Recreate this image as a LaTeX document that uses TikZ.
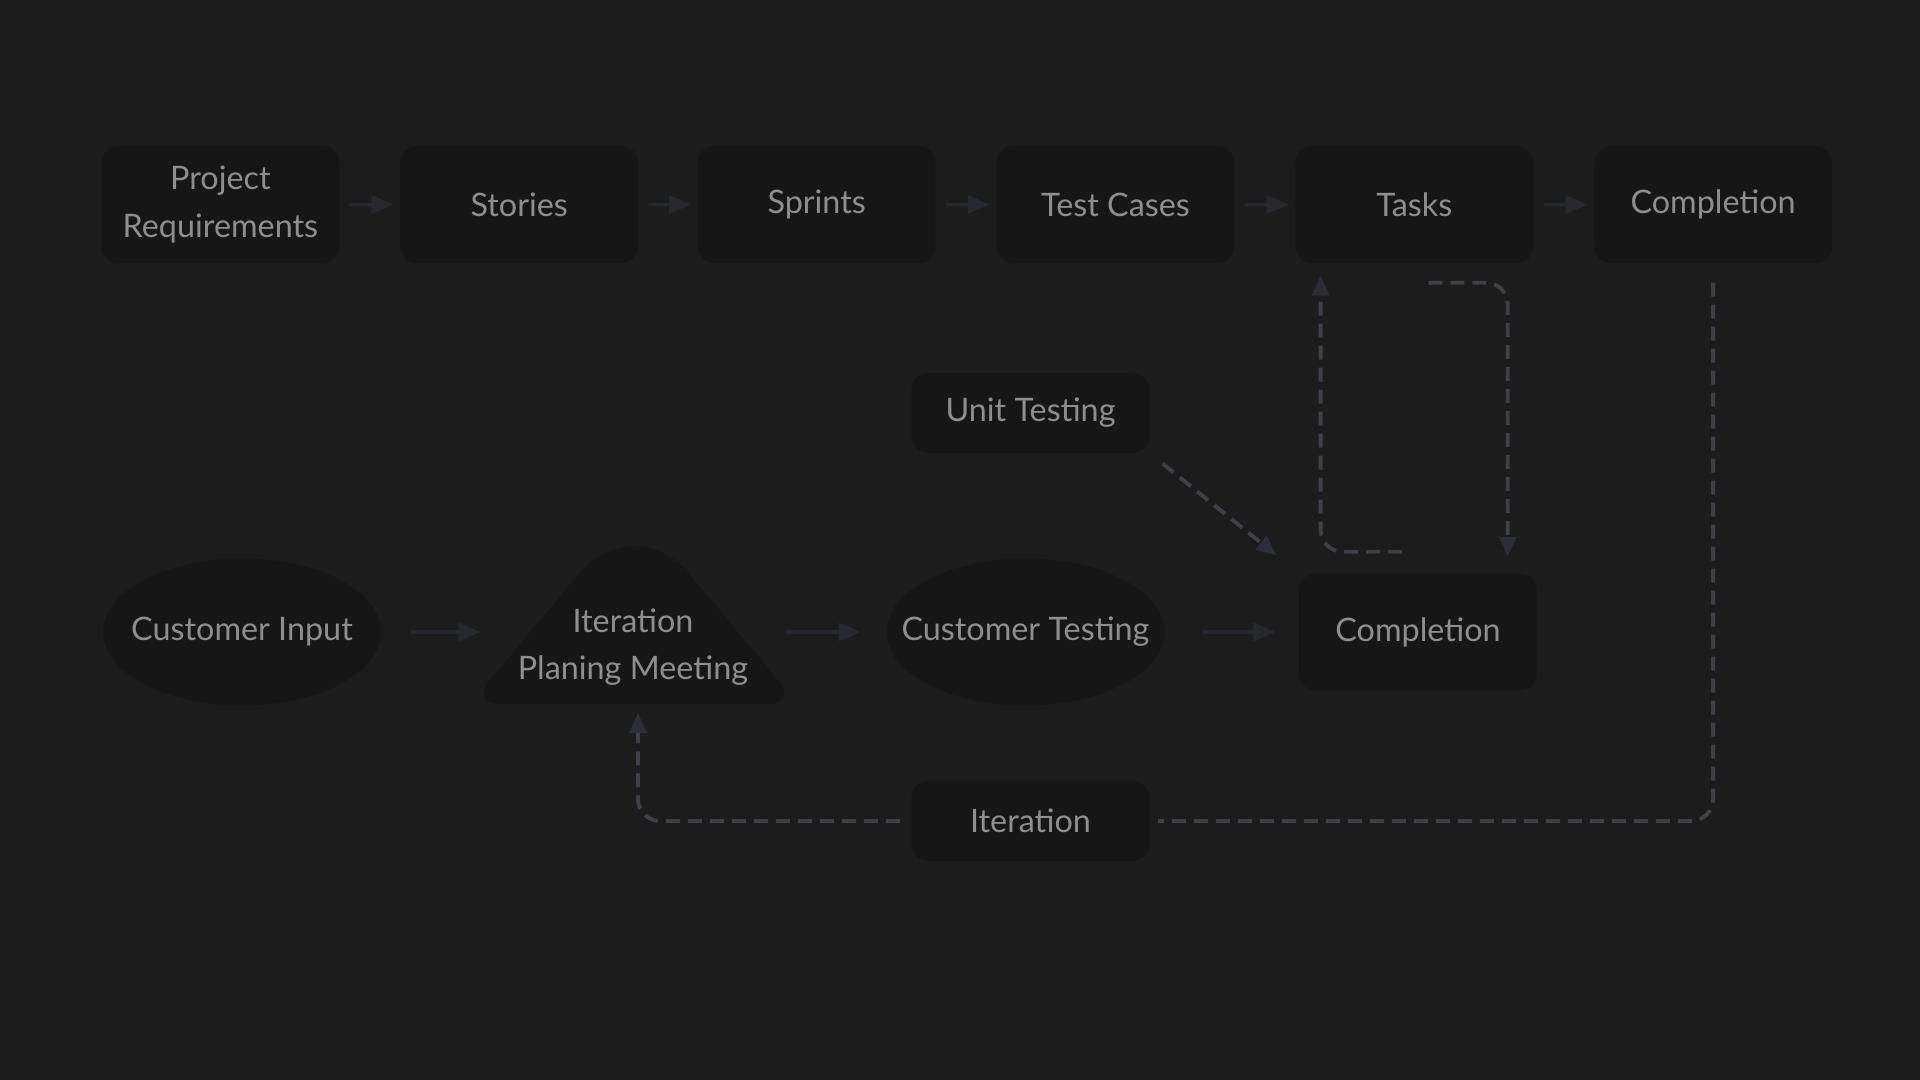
\documentclass[tikz,border=0pt]{standalone}
\usepackage{fontspec}
\setmainfont{Lato}
\usetikzlibrary{arrows.meta,shapes.geometric,backgrounds,calc}
\definecolor{bgcol}{HTML}{1C1C1C}
\definecolor{boxcol}{HTML}{161616}
\definecolor{txtcol}{HTML}{8E8E8E}
\definecolor{arrcol}{HTML}{25282D}
\definecolor{dashcol}{HTML}{3D4046}
\definecolor{headcol}{HTML}{2B2E34}
\tikzset{
	lbl/.style={text=txtcol, align=center, font=\fontsize{9.2pt}{13.6pt}\selectfont},
	stepbox/.style={lbl, rectangle, rounded corners=0.17cm, fill=boxcol, minimum width=2.38cm, minimum height=1.17cm},
	smallbox/.style={stepbox, minimum height=0.8cm},
	oval/.style={lbl, ellipse, fill=boxcol, inner sep=0pt, minimum width=2.78cm, minimum height=1.47cm},
	flow/.style={arrcol, line width=1.1pt, -{Triangle[length=0.22cm,width=0.18cm]}},
	loop/.style={dashcol, line width=1.1pt, dash pattern=on 0.14cm off 0.08cm, rounded corners=0.22cm},
	loophead/.style={-{Triangle[length=0.2cm,width=0.17cm,color=headcol]}}
}
\begin{document}
\begin{tikzpicture}
	\fill[bgcol] (0,0) rectangle (19.2,-10.8);
	\useasboundingbox (0,0) rectangle (19.2,-10.8);
	% top row
	\foreach \name/\x/\txt in {req/2.204/{Project\\Requirements}, sto/5.192/Stories, spr/8.167/Sprints, tst/11.155/{Test Cases}, tasks/14.143/Tasks, done/17.131/Completion}
		\node[stepbox] (\name) at (\x,-2.045) {\txt};
	\foreach \a/\b in {req/sto, sto/spr, spr/tst, tst/tasks, tasks/done}
		\draw[flow, shorten <=0.1cm, shorten >=0.06cm] (\a) -- (\b);
	% bottom row
	\node[oval] (cin) at (2.42,-6.32) {\makebox[0pt]{Customer Input}};
	\coordinate (ipmleft) at (4.70,-7.04);
	\coordinate (ipmright) at (7.98,-7.04);
	\coordinate (ipmapex) at (6.34,-5.08);
	\coordinate (ipmbase) at (6.34,-7.04);
	\fill[boxcol] (ipmbase) [rounded corners=0.3cm] -- (ipmleft) [rounded corners=0.85cm] -- (ipmapex) [rounded corners=0.3cm] -- (ipmright) -- cycle;
	\node[lbl, minimum width=3.04cm] (ipm) at (6.33,-6.47) {Iteration\\Planing Meeting};
	\node[oval] (cts) at (10.255,-6.32) {\makebox[0pt]{Customer Testing}};
	\node[stepbox] (comp) at (14.18,-6.32) {Completion};
	\node[smallbox] (ut) at (10.305,-4.13) {Unit Testing};
	\node[smallbox] (iter) at (10.305,-8.21) {Iteration};
	\draw[flow, shorten <=0.29cm] (cin.east) -- (cin.east -| ipm.west);
	\draw[flow, shorten >=0.25cm] (ipm.east |- cts.west) -- (cts.west);
	\draw[flow, shorten <=0.38cm, shorten >=0.23cm] (cts) -- (comp);
	% feedback loops
	\draw[loop, loophead, shorten <=0.16cm, shorten >=0.28cm] (ut.south east) -- (comp.north west);
	\draw[loop, loophead] ($(comp.north)+(-0.16,0.21)$) -| ($(tasks.south west)+(0.26,-0.12)$);
	\draw[loop, loophead] ($(tasks.south)+(0.14,-0.19)$) -| ($(comp.north east)+(-0.30,0.16)$);
	\draw[loop] ($(done.south)+(0,-0.19)$) |- ($(iter.east)+(0.08,0)$);
	\draw[loop, loophead] ($(iter.west)+(-0.11,0)$) -| ($(ipmbase)+(0.04,-0.09)$);
\end{tikzpicture}
\end{document}
